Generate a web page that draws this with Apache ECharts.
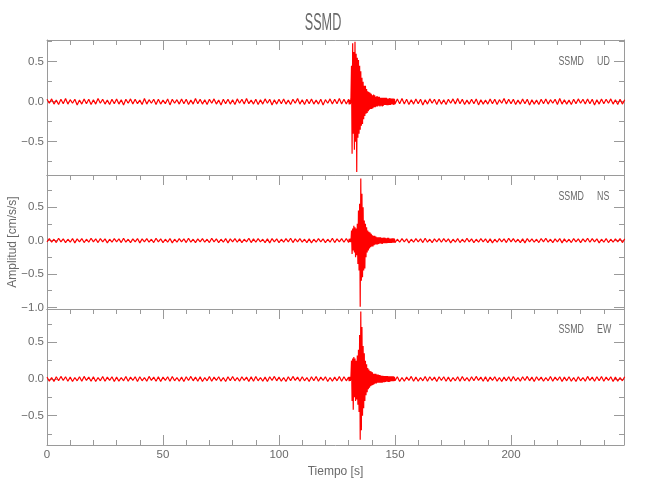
<!DOCTYPE html>
<html>
<head>
<meta charset="utf-8">
<script src="https://cdn.jsdelivr.net/npm/echarts@6/dist/echarts.min.js"></script>
<style>html,body{margin:0;padding:0;background:#fff}#chart{width:650px;height:500px}</style>
</head>
<body>
<div id="chart"></div>
<script>
// ---------- text ----------
const TITLE = 'SSMD';
const STATION = 'SSMD';
const COMPONENTS = ['UD', 'NS', 'EW'];
const X_NAME = 'Tiempo [s]';
const Y_NAME = 'Amplitud [cm/s/s]';

// ---------- axes ----------
const X_RANGE = [0, 248.7];
const X_MAJOR = [0, 50, 100, 150, 200];
const X_MINOR = [10, 20, 30, 40, 60, 70, 80, 90, 110, 120, 130, 140, 160, 170, 180, 190, 210, 220, 230, 240];
const Y_RANGES = [[-0.916, 0.771], [-1.025, 0.982], [-0.9, 0.954]];
const Y_MAJOR = [[-0.5, 0, 0.5], [-1, -0.5, 0, 0.5], [-0.5, 0, 0.5]];
const Y_MINOR = [[-0.75, -0.25, 0.25, 0.75], [-0.75, -0.25, 0.25, 0.75], [-0.75, -0.25, 0.25, 0.75]];

// ---------- sampling of the traces (s) ----------
const PRE_T0 = 0, PRE_DT = 1;        // 0 .. 129 s
const EVENT_T0 = 130, EVENT_DT = 0.25; // 130 .. 149.75 s
const POST_T0 = 150, POST_DT = 1;     // 150 .. 249 s

// ---------- UD ----------
const UD_PRE = [
0.03,-0.02,0.035,-0.03,0.02,-0.035,0.03,-0.025,0.04,-0.03,0.025,-0.02,0.03,-0.04,0.02,-0.03,
0.035,-0.025,0.03,-0.035,0.025,-0.03,0.04,-0.02,0.03,-0.03,0.02,-0.035,0.03,-0.025,0.035,-0.03,
0.025,-0.04,0.03,-0.02,0.035,-0.03,0.03,-0.025,0.02,-0.035,0.04,-0.03,0.025,-0.02,0.03,-0.035,
0.03,-0.03,0.02,-0.025,0.035,-0.04,0.03,-0.02,0.025,-0.03,0.035,-0.025,0.03,-0.035,0.02,-0.03,
0.04,-0.025,0.03,-0.03,0.025,-0.035,0.03,-0.02,0.035,-0.03,0.02,-0.04,0.03,-0.025,0.03,-0.03,
0.025,-0.035,0.035,-0.02,0.03,-0.03,0.04,-0.025,0.02,-0.03,0.03,-0.035,0.025,-0.03,0.035,-0.02,
0.03,-0.04,0.025,-0.03,0.03,-0.025,0.035,-0.03,0.02,-0.035,0.03,-0.02,0.04,-0.03,0.025,-0.035,
0.03,-0.025,0.035,-0.03,0.02,-0.03,0.03,-0.04,0.025,-0.02,0.035,-0.03,0.03,-0.025,0.04,-0.03,
0.03,-0.03];
const UD_EVENT = [
0.03,-0.035,0.025,-0.03,
0.035,0.45,-0.65,0.73,
-0.4,0.62,-0.6,0.75,
-0.5,0.6,-0.88,0.55,
-0.45,0.52,-0.4,0.45,
-0.35,0.38,-0.3,0.3,
-0.28,0.25,-0.22,0.2,
-0.18,0.2,-0.15,0.16,
-0.14,0.13,-0.12,0.12,
-0.1,0.11,-0.09,0.1,
-0.09,0.08,-0.08,0.09,
-0.07,0.08,-0.07,0.06,
-0.06,0.07,-0.06,0.06,
-0.05,0.06,-0.06,0.05,
-0.05,0.05,-0.06,0.05,
-0.05,0.05,-0.04,0.05,
-0.04,0.05,-0.045,0.04,
-0.045,0.04,-0.04,0.045,
-0.04,0.04,-0.035,0.04,
-0.035,0.04,-0.04,0.035];
const UD_POST = [
-0.03,0.035,-0.025,0.04,-0.03,0.03,-0.035,0.025,-0.03,0.035,
-0.025,0.03,-0.04,0.025,-0.03,0.035,-0.02,0.03,-0.035,0.03,
-0.03,0.025,-0.035,0.03,-0.02,0.035,-0.03,0.04,-0.025,0.03,
-0.035,0.02,-0.03,0.03,-0.025,0.035,-0.04,0.025,-0.03,0.02,
-0.03,0.035,-0.025,0.03,-0.035,0.025,-0.02,0.04,-0.03,0.03,
-0.025,0.03,-0.035,0.02,-0.03,0.035,-0.025,0.03,-0.04,0.025,
-0.03,0.02,-0.035,0.03,-0.025,0.035,-0.03,0.025,-0.02,0.03,
-0.035,0.04,-0.03,0.025,-0.03,0.02,-0.035,0.03,-0.025,0.035,
-0.02,0.03,-0.03,0.035,-0.025,0.03,-0.04,0.025,-0.03,0.035,
-0.025,0.03,-0.02,0.035,-0.03,0.025,-0.035,0.03,-0.03,0.025];

// ---------- NS ----------
const NS_PRE = [
-0.02,0.03,-0.025,0.02,-0.03,0.035,-0.02,0.025,-0.03,0.02,-0.025,0.03,-0.035,0.025,-0.02,0.03,
-0.03,0.02,-0.025,0.035,-0.02,0.025,-0.03,0.03,-0.02,0.025,-0.035,0.02,-0.025,0.03,-0.02,0.025,
-0.03,0.035,-0.025,0.02,-0.03,0.025,-0.02,0.03,-0.035,0.025,-0.02,0.03,-0.025,0.02,-0.03,0.035,
-0.02,0.025,-0.03,0.02,-0.025,0.03,-0.035,0.02,-0.025,0.03,-0.02,0.025,-0.03,0.035,-0.025,0.02,
-0.03,0.025,-0.02,0.03,-0.025,0.02,-0.03,0.035,-0.02,0.025,-0.03,0.02,-0.025,0.03,-0.035,0.025,
-0.02,0.03,-0.025,0.025,-0.03,0.02,-0.02,0.035,-0.03,0.025,-0.025,0.03,-0.02,0.02,-0.03,0.025,
-0.035,0.03,-0.02,0.025,-0.03,0.02,-0.025,0.03,-0.02,0.035,-0.03,0.025,-0.02,0.03,-0.025,0.02,
-0.03,0.025,-0.035,0.02,-0.025,0.03,-0.02,0.025,-0.03,0.02,-0.025,0.035,-0.03,0.025,-0.02,0.03,
-0.025,0.03];
const NS_EVENT = [
-0.03,0.025,-0.02,0.03,
-0.025,0.15,-0.2,0.18,
-0.15,0.22,-0.18,0.2,
-0.25,0.18,-0.22,0.25,
-0.35,0.45,-0.45,0.55,
-0.99,0.93,-0.6,0.7,
-0.55,0.5,-0.45,0.3,
-0.42,0.25,-0.25,0.2,
-0.18,0.15,-0.15,0.13,
-0.12,0.12,-0.1,0.1,
-0.09,0.08,-0.09,0.07,
-0.07,0.07,-0.06,0.06,
-0.06,0.05,-0.06,0.05,
-0.05,0.05,-0.045,0.05,
-0.045,0.04,-0.05,0.04,
-0.04,0.045,-0.04,0.04,
-0.04,0.035,-0.04,0.04,
-0.035,0.04,-0.035,0.03,
-0.035,0.03,-0.035,0.035,
-0.03,0.035,-0.03,0.03];
const NS_POST = [
-0.03,0.02,-0.025,0.03,-0.02,0.025,-0.035,0.02,-0.025,0.03,
-0.02,0.025,-0.03,0.035,-0.025,0.02,-0.03,0.025,-0.02,0.03,
-0.025,0.03,-0.02,0.025,-0.035,0.02,-0.025,0.03,-0.03,0.02,
-0.025,0.035,-0.02,0.025,-0.03,0.02,-0.025,0.03,-0.02,0.025,
-0.03,0.025,-0.035,0.02,-0.025,0.03,-0.02,0.025,-0.03,0.035,
-0.02,0.03,-0.025,0.02,-0.03,0.025,-0.035,0.03,-0.02,0.025,
-0.025,0.02,-0.03,0.03,-0.02,0.035,-0.025,0.02,-0.03,0.025,
-0.02,0.03,-0.035,0.025,-0.025,0.02,-0.03,0.03,-0.02,0.025,
-0.03,0.025,-0.02,0.035,-0.025,0.03,-0.02,0.025,-0.035,0.02,
-0.025,0.03,-0.03,0.02,-0.025,0.025,-0.02,0.03,-0.03,0.025];

// ---------- EW ----------
const EW_PRE = [
0.025,-0.03,0.02,-0.035,0.03,-0.025,0.035,-0.02,0.03,-0.03,0.025,-0.035,0.02,-0.025,0.03,-0.03,
0.035,-0.02,0.025,-0.03,0.03,-0.035,0.02,-0.025,0.035,-0.03,0.025,-0.02,0.03,-0.035,0.025,-0.03,
0.02,-0.025,0.035,-0.03,0.025,-0.02,0.03,-0.035,0.03,-0.025,0.02,-0.03,0.035,-0.02,0.025,-0.03,
0.03,-0.035,0.025,-0.02,0.03,-0.03,0.035,-0.025,0.02,-0.03,0.025,-0.035,0.03,-0.02,0.035,-0.025,
0.025,-0.03,0.03,-0.035,0.02,-0.025,0.035,-0.03,0.025,-0.02,0.03,-0.03,0.02,-0.035,0.03,-0.025,
0.035,-0.025,0.02,-0.03,0.03,-0.02,0.025,-0.035,0.03,-0.03,0.035,-0.025,0.02,-0.03,0.025,-0.035,
0.03,-0.02,0.035,-0.025,0.025,-0.03,0.02,-0.035,0.03,-0.025,0.035,-0.02,0.025,-0.03,0.03,-0.025,
0.02,-0.035,0.03,-0.025,0.035,-0.03,0.025,-0.02,0.03,-0.035,0.02,-0.03,0.025,-0.025,0.035,-0.03,
0.03,-0.025];
const EW_EVENT = [
0.025,-0.03,0.03,-0.025,
0.03,0.25,-0.3,0.28,
-0.42,0.3,-0.25,0.28,
-0.3,0.25,-0.28,0.32,
-0.35,0.4,-0.45,0.6,
-0.83,0.92,-0.7,0.71,
-0.5,0.45,-0.4,0.35,
-0.3,0.25,-0.22,0.2,
-0.18,0.15,-0.14,0.13,
-0.12,0.11,-0.1,0.1,
-0.09,0.09,-0.08,0.07,
-0.07,0.07,-0.06,0.07,
-0.06,0.06,-0.05,0.06,
-0.05,0.055,-0.05,0.05,
-0.05,0.045,-0.05,0.045,
-0.045,0.04,-0.045,0.04,
-0.04,0.04,-0.035,0.04,
-0.04,0.035,-0.04,0.035,
-0.035,0.035,-0.03,0.035,
-0.03,0.035,-0.03,0.03];
const EW_POST = [
-0.025,0.03,-0.035,0.02,-0.03,0.025,-0.02,0.035,-0.03,0.025,
-0.03,0.02,-0.025,0.035,-0.03,0.03,-0.02,0.025,-0.035,0.03,
-0.02,0.03,-0.03,0.025,-0.035,0.02,-0.025,0.03,-0.03,0.035,
-0.025,0.02,-0.03,0.03,-0.025,0.035,-0.02,0.025,-0.03,0.03,
-0.035,0.025,-0.02,0.03,-0.03,0.02,-0.035,0.025,-0.025,0.03,
-0.03,0.035,-0.025,0.02,-0.03,0.03,-0.02,0.035,-0.025,0.025,
-0.035,0.03,-0.02,0.025,-0.03,0.02,-0.025,0.035,-0.03,0.025,
-0.02,0.03,-0.035,0.025,-0.025,0.03,-0.03,0.02,-0.035,0.03,
-0.025,0.02,-0.03,0.035,-0.02,0.025,-0.03,0.03,-0.025,0.035,
-0.03,0.025,-0.02,0.03,-0.035,0.025,-0.03,0.02,-0.025,0.03];

// ---------- build ----------
function trace(pre, ev, post) {
  const d = [];
  pre.forEach((v, i) => d.push([PRE_T0 + i * PRE_DT, v]));
  ev.forEach((v, i) => d.push([EVENT_T0 + i * EVENT_DT, v]));
  post.forEach((v, i) => d.push([POST_T0 + i * POST_DT, v]));
  return d;
}
const TRACES = [trace(UD_PRE, UD_EVENT, UD_POST), trace(NS_PRE, NS_EVENT, NS_POST), trace(EW_PRE, EW_EVENT, EW_POST)];

const FONT = "'Liberation Sans','Noto Sans',sans-serif";
const AXIS_C = '#9a9a9a';
const TEXT_C = '#6a6a6a';
const LINE_C = '#ff0000';
const GRIDS = [{ top: 40, height: 135 }, { top: 175, height: 134 }, { top: 309, height: 136 }];

const grid = GRIDS.map(g => ({ left: 47, width: 577, top: g.top, height: g.height, containLabel: false, outerBoundsMode: 'none' }));
const xAxis = [], yAxis = [], series = [];
const fmtY = v => v.toFixed(1).replace('-', '\u2212');

function tickOnly(base, values, len) {
  return Object.assign({
    offset: 0,
    axisLine: { show: false, onZero: false },
    axisTick: { show: true, inside: true, length: len, customValues: values, lineStyle: { color: AXIS_C, width: 1 } },
    axisLabel: { show: false },
    splitLine: { show: false }
  }, base);
}

GRIDS.forEach((g, i) => {
  const xb = { type: 'value', gridIndex: i, min: X_RANGE[0], max: X_RANGE[1], offset: 0 };
  const bottomIdx = xAxis.length;
  xAxis.push(Object.assign({}, xb, {
    position: 'bottom',
    axisLine: { show: true, onZero: false, lineStyle: { color: AXIS_C, width: 1 } },
    axisTick: { show: i === 2, inside: true, length: 10, customValues: X_MAJOR, lineStyle: { color: AXIS_C } },
    axisLabel: { show: i === 2, customValues: X_MAJOR, color: TEXT_C, fontFamily: FONT, fontSize: 11.5, margin: 4 },
    splitLine: { show: false },
    name: i === 2 ? X_NAME : '',
    nameLocation: 'middle', nameGap: 21, nameMoveOverlap: false,
    nameTextStyle: { color: TEXT_C, fontFamily: FONT, fontSize: 12 }
  }));
  if (i === 2) xAxis.push(tickOnly(Object.assign({}, xb, { position: 'bottom' }), X_MINOR, 5));
  xAxis.push(Object.assign({}, xb, {
    position: 'top',
    axisLine: { show: true, onZero: false, lineStyle: { color: AXIS_C, width: 1 } },
    axisTick: { show: true, inside: true, length: 10, customValues: X_MAJOR, lineStyle: { color: AXIS_C } },
    axisLabel: { show: false }, splitLine: { show: false }
  }));
  xAxis.push(tickOnly(Object.assign({}, xb, { position: 'top' }), X_MINOR, 5));

  const yb = { type: 'value', gridIndex: i, min: Y_RANGES[i][0], max: Y_RANGES[i][1], offset: 0 };
  const leftIdx = yAxis.length;
  yAxis.push(Object.assign({}, yb, {
    position: 'left',
    axisLine: { show: true, onZero: false, lineStyle: { color: AXIS_C, width: 1 } },
    axisTick: { show: true, inside: true, length: 10, customValues: Y_MAJOR[i], lineStyle: { color: AXIS_C } },
    axisLabel: { show: true, customValues: Y_MAJOR[i], formatter: fmtY, color: TEXT_C, fontFamily: FONT, fontSize: 11.5, margin: 3 },
    splitLine: { show: false },
    name: i === 1 ? Y_NAME : '',
    nameLocation: 'middle', nameGap: 28, nameMoveOverlap: false,
    nameTextStyle: { color: TEXT_C, fontFamily: FONT, fontSize: 12 }
  }));
  yAxis.push(tickOnly(Object.assign({}, yb, { position: 'left' }), Y_MINOR[i], 5));
  yAxis.push(Object.assign({}, yb, {
    position: 'right',
    axisLine: { show: true, onZero: false, lineStyle: { color: AXIS_C, width: 1 } },
    axisTick: { show: true, inside: true, length: 10, customValues: Y_MAJOR[i], lineStyle: { color: AXIS_C } },
    axisLabel: { show: false }, splitLine: { show: false }
  }));
  yAxis.push(tickOnly(Object.assign({}, yb, { position: 'right' }), Y_MINOR[i], 5));

  series.push({
    type: 'line', name: COMPONENTS[i], xAxisIndex: bottomIdx, yAxisIndex: leftIdx,
    data: TRACES[i], showSymbol: false, symbol: 'none', clip: true,
    lineStyle: { color: LINE_C, width: 1.2 }, z: 1, silent: true
  });
});

const LABEL_Y = [61, 196, 329];
const graphic = [{
  type: 'text', x: 323, y: 24, scaleX: 0.55,
  style: { text: TITLE, fill: TEXT_C, font: '23px ' + FONT, textAlign: 'center', textVerticalAlign: 'middle' }
}];
LABEL_Y.forEach((y, i) => {
  graphic.push({ type: 'text', x: 584, y: y, scaleX: 0.68,
    style: { text: STATION, fill: TEXT_C, font: '13px ' + FONT, textAlign: 'right', textVerticalAlign: 'middle' } });
  graphic.push({ type: 'text', x: 597, y: y, scaleX: 0.68,
    style: { text: COMPONENTS[i], fill: TEXT_C, font: '13px ' + FONT, textAlign: 'left', textVerticalAlign: 'middle' } });
});

const chart = echarts.init(document.getElementById('chart'), null, { renderer: 'canvas' });
chart.setOption({
  animation: false,
  backgroundColor: '#fff',
  grid, xAxis, yAxis, series, graphic
});
</script>
</body>
</html>
